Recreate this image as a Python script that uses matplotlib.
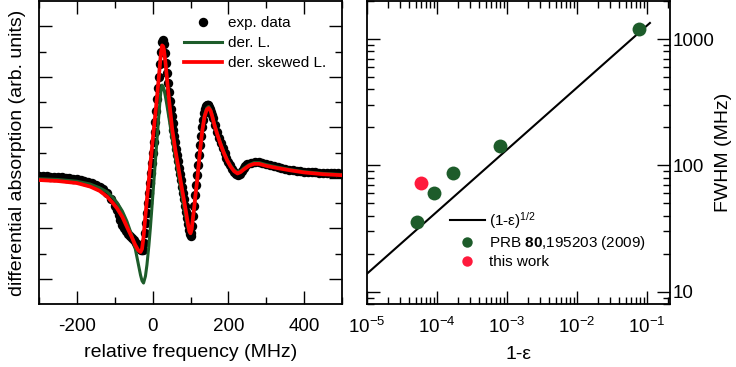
import numpy as np
import matplotlib
matplotlib.use("Agg")
import matplotlib.pyplot as plt
from matplotlib.ticker import MultipleLocator, LogLocator, NullFormatter
from matplotlib.lines import Line2D

plt.rcParams['font.family'] = ['Liberation Sans', 'DejaVu Sans']
plt.rcParams['mathtext.fontset'] = 'custom'
plt.rcParams['mathtext.rm'] = 'Liberation Sans'
plt.rcParams['mathtext.it'] = 'Liberation Sans:italic'
plt.rcParams['mathtext.bf'] = 'Liberation Sans:bold'
plt.rcParams['axes.unicode_minus'] = False

# ---- left panel: measured spectrum (MHz, arb. units) ----
freq_exp = np.concatenate([np.arange(-300, -95, 10), np.arange(-95, -30, 5),
                           np.arange(-30, 162.5, 2.5), np.arange(165, 255, 5),
                           np.arange(260, 505, 10)])
absorb_exp = np.array(
    # -300 .. -100
    [5.05, 5.05, 5.05, 5.04, 5.03, 5.02, 5.01, 5.0, 4.98, 4.97, 4.95, 4.92,
     4.89, 4.85, 4.8, 4.72, 4.64, 4.54, 4.4, 4.16, 3.88]
    # -95 .. -35
    + [3.72, 3.52, 3.32, 3.14, 3.0, 2.88, 2.78, 2.7, 2.62, 2.53, 2.43, 2.32, 2.22]
    # -30 .. 160
    + [2.15, 2.12, 2.15, 2.4, 2.8, 3.2, 3.6, 4.0, 4.4, 4.8, 5.2, 5.6,
       6.0, 6.4, 6.8, 7.22, 7.65, 8.1, 8.55, 9.0, 9.5, 10.0, 10.38, 10.45, 10.28,
       9.95, 9.55, 9.15, 8.75, 8.38, 8.03, 7.72, 7.43, 7.16, 6.9, 6.65, 6.4,
       6.15, 5.9, 5.65, 5.4, 5.15, 4.9, 4.65, 4.4, 4.15, 3.9, 3.65, 3.4,
       3.15, 2.92, 2.76, 2.7, 2.8, 3.1, 3.5, 3.9, 4.3, 4.7, 5.1, 5.5,
       5.9, 6.3, 6.65, 7.0, 7.3, 7.55, 7.72, 7.83, 7.88, 7.9, 7.88, 7.82,
       7.72, 7.6, 7.48, 7.35]
    # 165 .. 250
    + [7.08, 6.82, 6.58, 6.36, 6.16, 5.97, 5.8, 5.64, 5.49, 5.35, 5.24, 5.15,
       5.12, 5.16, 5.26, 5.37, 5.47, 5.54]
    # 260 .. 500
    + [5.6, 5.63, 5.63, 5.59, 5.54, 5.49, 5.45, 5.41, 5.38, 5.35, 5.32, 5.3,
       5.28, 5.26, 5.24, 5.23, 5.22, 5.21, 5.2, 5.19, 5.18, 5.18, 5.17, 5.17, 5.16])

freq_fit = [-300, -250, -200, -165, -140, -120, -105, -94, -80, -68, -55, -46,
            -38, -32, -28, -24, -19, -15, -10, -6, 0, 5, 10, 15, 20, 22, 25,
            28, 30, 34, 38, 45, 51.5, 60, 67, 73.5, 80, 87, 93, 97, 100, 103,
            106, 110, 113, 117.7, 124, 131, 137, 143, 148, 153, 157, 163,
            170.6, 180, 188, 197, 206, 215, 224, 232, 240, 255, 268, 281, 300,
            330, 365, 400, 450, 500]
skewed_fit = [4.91, 4.87, 4.79, 4.65, 4.48, 4.25, 4.0, 3.79, 3.45, 3.06, 2.65,
              2.34, 2.13, 2.06, 2.18, 2.65, 3.5, 4.15, 4.92, 5.55, 6.45, 7.2,
              7.95, 8.75, 9.6, 9.95, 10.24, 10.2, 10.05, 9.55, 8.9, 7.85, 6.95,
              6.1, 5.5, 4.91, 4.35, 3.75, 3.2, 2.88, 2.8, 2.95, 3.35, 3.85, 4.3,
              4.91, 5.9, 6.85, 7.42, 7.7, 7.76, 7.65, 7.45, 7.1, 6.72, 6.3,
              5.98, 5.68, 5.44, 5.26, 5.17, 5.22, 5.32, 5.48, 5.55, 5.55, 5.47,
              5.38, 5.29, 5.21, 5.14, 5.1]
lorentz_fit = [4.96, 4.93, 4.86, 4.75, 4.6, 4.44, 4.22, 4.02, 3.68, 3.28, 2.72,
               2.2, 1.6, 1.15, 0.92, 0.83, 1.1, 1.55, 2.3, 3.0, 4.2, 5.2, 6.2,
               7.2, 8.15, 8.45, 8.67, 8.6, 8.5, 8.2, 7.85, 7.2, 6.55, 5.8, 5.2,
               4.62, 4.05, 3.5, 3.05, 2.85, 2.8, 2.95, 3.35, 3.85, 4.3, 4.95,
               5.95, 6.9, 7.48, 7.76, 7.82, 7.7, 7.5, 7.15, 6.78, 6.35, 6.03,
               5.73, 5.49, 5.31, 5.22, 5.27, 5.37, 5.52, 5.6, 5.6, 5.52, 5.42,
               5.32, 5.24, 5.17, 5.13]

# ---- right panel: linewidth vs 1-eps ----
eps_prb = [5.1e-5, 9.2e-5, 1.71e-4, 7.9e-4, 7.7e-2]
fwhm_prb = [35.7, 60, 87, 143, 1200]
eps_this = [6.0e-5]
fwhm_this = [72]
eps_line = [1e-5, 0.11]
fwhm_line = [13.9, 1340]

GREEN = "#1d5c2a"
RED = "#ff0000"
PINK = "#ff1a3c"

fig = plt.figure(figsize=(7.36, 3.67), dpi=100)
ax1 = fig.add_axes([39/736, 63/367, 303/736, 303/367])
ax2 = fig.add_axes([367/736, 63/367, 303/736, 303/367])

ax1.plot(freq_exp, absorb_exp, 'o', color='black', ms=6.8, mec='none', zorder=2)
ax1.plot(freq_fit, lorentz_fit, '-', color=GREEN, lw=2.2, zorder=3)
ax1.plot(freq_fit, skewed_fit, '-', color=RED, lw=2.7, zorder=4)
ax1.set_xlim(-300, 500)
ax1.set_ylim(0, 12)
ax1.xaxis.set_major_locator(MultipleLocator(200))
ax1.xaxis.set_minor_locator(MultipleLocator(100))
ax1.set_yticks([1, 3, 5, 7, 9, 11])
ax1.set_yticks([2, 4, 6, 8, 10], minor=True)
ax1.set_yticklabels([])
ax1.set_xlabel('relative frequency (MHz)', fontsize=14)
ax1.set_ylabel('differential absorption (arb. units)', fontsize=14)
ax1.yaxis.set_label_coords(-0.043, 0.5)
ax1.xaxis.set_label_coords(0.5, -0.133)

handles1 = [Line2D([], [], marker='o', ls='none', color='black', ms=6.8, mec='none'),
            Line2D([], [], color=GREEN, lw=2.2),
            Line2D([], [], color=RED, lw=2.7)]
ax1.legend(handles1, ['exp. data', 'der. L.', 'der. skewed L.'], loc='upper left',
           bbox_to_anchor=(0.479, 0.95), frameon=False, fontsize=11,
           borderpad=0, borderaxespad=0, handlelength=2.5, handletextpad=0.35,
           labelspacing=0.4)

ax2.loglog(eps_line, fwhm_line, '-', color='black', lw=1.5)
ax2.plot(eps_prb, fwhm_prb, 'o', color=GREEN, ms=10, mec='none')
ax2.plot(eps_this, fwhm_this, 'o', color=PINK, ms=10, mec='none')
ax2.set_xlim(1e-5, 0.213)
ax2.set_ylim(8.0, 2000)
ax2.xaxis.set_major_locator(LogLocator(base=10, numticks=10))
ax2.xaxis.set_minor_locator(LogLocator(base=10, subs=np.arange(2, 10), numticks=10))
ax2.xaxis.set_minor_formatter(NullFormatter())
ax2.yaxis.set_minor_formatter(NullFormatter())
ax2.yaxis.set_major_formatter(plt.FuncFormatter(lambda v, p: '%d' % v))
ax2.yaxis.tick_right()
ax2.yaxis.set_label_position('right')
ax2.set_xlabel('1-ε', fontsize=14)
ax2.set_ylabel('FWHM (MHz)', fontsize=14)
ax2.xaxis.set_label_coords(0.5, -0.14)
ax2.yaxis.set_label_coords(1.15, 0.5)

handles2 = [Line2D([], [], color='black', lw=1.5),
            Line2D([], [], marker='o', ls='none', color=GREEN, ms=7.5, mec='none'),
            Line2D([], [], marker='o', ls='none', color=PINK, ms=7.5, mec='none')]
ax2.legend(handles2, ['(1-ε)$^{1/2}$', 'PRB $\\mathbf{80}$,195203 (2009)', 'this work'],
           loc='upper left', bbox_to_anchor=(0.273, 0.31), frameon=False,
           fontsize=11, borderpad=0, borderaxespad=0, handlelength=2.3,
           handletextpad=0.3, labelspacing=0.2)

for ax in (ax1, ax2):
    for s in ax.spines.values():
        s.set_linewidth(1.3)
    ax.tick_params(which='both', direction='in', top=True, bottom=True,
                   left=True, right=True, width=1, labelsize=13.5)
    ax.tick_params(which='major', length=9.5)
    ax.tick_params(which='minor', length=5)
ax1.tick_params(axis='x', pad=10)
ax2.tick_params(axis='x', pad=9)
ax2.tick_params(axis='y', pad=2, labelleft=False, labelright=True)

fig.savefig('out.png', dpi=100)
